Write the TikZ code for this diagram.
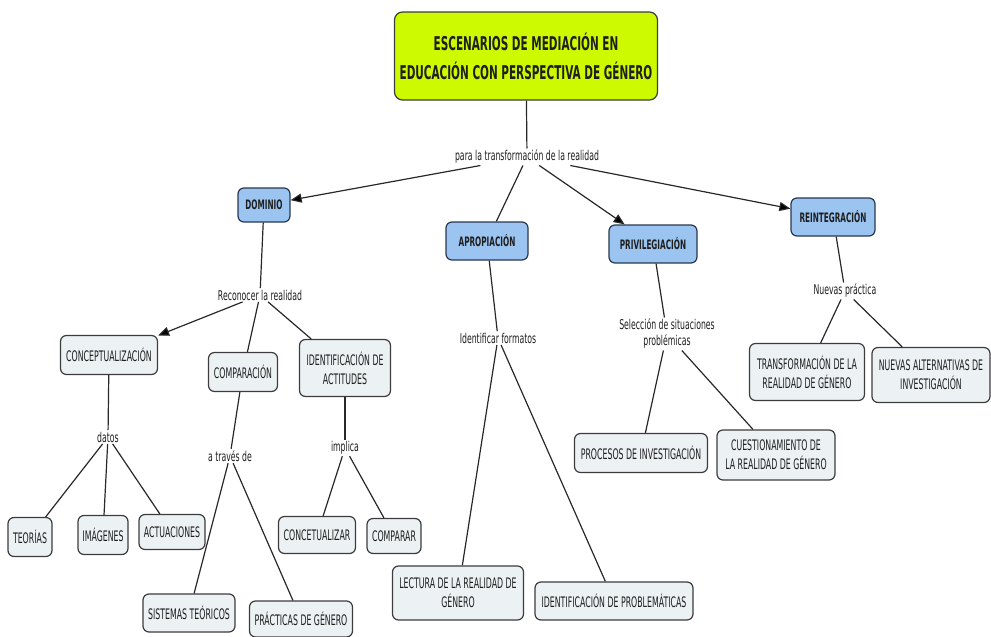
\documentclass[tikz,border=0pt]{standalone}
\usepackage{fontspec}
\setmainfont{DejaVu Sans}[FakeStretch=0.575]
\newfontfamily\nodefont{DejaVu Sans}[FakeStretch=0.54]
\newfontfamily\bluefont{DejaVu Sans}[FakeStretch=0.56]
\newfontfamily\titlefont{DejaVu Sans}[FakeStretch=0.55]
\usetikzlibrary{arrows.meta}
\definecolor{titlefill}{RGB}{206,250,0}
\definecolor{bluefill}{RGB}{155,196,240}
\definecolor{blueborder}{RGB}{40,55,80}
\definecolor{nodefill}{RGB}{236,242,244}
\definecolor{bordergray}{RGB}{60,60,60}
\definecolor{linegray}{RGB}{40,40,40}
\definecolor{textgray}{RGB}{30,30,30}
\tikzset{
 concept/.style={draw=bordergray, fill=nodefill, rounded corners=6pt, line width=1.2pt, font=\nodefont\fontsize{14.5}{19}\selectfont, align=center, inner sep=2pt, text=textgray},
 mainc/.style={concept, draw=blueborder, fill=bluefill, font=\bluefont\bfseries\fontsize{13}{15}\selectfont},
 titlec/.style={concept, draw=bordergray, fill=titlefill, rounded corners=8pt, font=\titlefont\bfseries\fontsize{19}{29}\selectfont},
 link/.style={font=\fontsize{13.5}{16}\selectfont, align=center, inner sep=1.5pt, text=textgray},
 conn/.style={draw=linegray, line width=1.2pt},
 arr/.style={conn, -{Triangle[length=11pt,width=9pt,fill=black]}},
}
\begin{document}
\begin{tikzpicture}[x=1pt,y=-1pt]
\useasboundingbox (0,0) rectangle (991,637);
% title
\node[titlec, minimum width=263pt, minimum height=88pt] (title) at (526,56) {ESCENARIOS DE MEDIACIÓN EN\\EDUCACIÓN CON PERSPECTIVA DE GÉNERO};
\node[link] (para) at (527,157) {para la transformación de la realidad};
% main concepts
\node[mainc, minimum width=52pt, minimum height=34pt] (dom) at (264,205) {DOMINIO};
\node[mainc, minimum width=82pt, minimum height=38pt] (apr) at (487,241) {APROPIACIÓN};
\node[mainc, minimum width=88pt, minimum height=38pt] (pri) at (653,244) {PRIVILEGIACIÓN};
\node[mainc, minimum width=84pt, minimum height=38pt] (rei) at (833,217) {REINTEGRACIÓN};
% dominio branch
\node[link] (recon) at (260,295) {Reconocer la realidad};
\node[concept, minimum width=97pt, minimum height=39pt] (concep) at (109,355) {CONCEPTUALIZACIÓN};
\node[concept, minimum width=69pt, minimum height=39pt] (compar) at (243,372) {COMPARACIÓN};
\node[concept, minimum width=91pt, minimum height=57pt] (ident) at (345,368) {IDENTIFICACIÓN DE\\ACTITUDES};
\node[link] (datos) at (108,437) {datos};
\node[concept, minimum width=44pt, minimum height=39pt] (teo) at (30,537) {TEORÍAS};
\node[concept, minimum width=50pt, minimum height=39pt] (ima) at (103,535) {IMÁGENES};
\node[concept, minimum width=66pt, minimum height=35pt] (act) at (172,532) {ACTUACIONES};
\node[link] (atraves) at (230,456) {a través de};
\node[concept, minimum width=92pt, minimum height=38pt] (sis) at (189,613) {SISTEMAS TEÓRICOS};
\node[concept, minimum width=103pt, minimum height=36pt] (prac) at (301,619) {PRÁCTICAS DE GÉNERO};
\node[link] (implica) at (345,448) {implica};
\node[concept, minimum width=77pt, minimum height=37pt] (concet) at (317,535) {CONCETUALIZAR};
\node[concept, minimum width=54pt, minimum height=35pt] (compr) at (394,536) {COMPARAR};
% apropiacion branch
\node[link] (identf) at (498,338) {Identificar formatos};
\node[concept, minimum width=131pt, minimum height=54pt] (lect) at (458,593) {LECTURA DE LA REALIDAD DE\\GÉNERO};
\node[concept, minimum width=158pt, minimum height=38pt] (idprob) at (614,601) {IDENTIFICACIÓN DE PROBLEMÁTICAS};
% privilegiacion branch
\node[link] (selec) at (667,334) {Selección de situaciones\\problémicas};
\node[concept, minimum width=133pt, minimum height=39pt] (proc) at (641,453) {PROCESOS DE INVESTIGACIÓN};
\node[concept, minimum width=118pt, minimum height=50pt] (cuest) at (776,455) {CUESTIONAMIENTO DE\\LA REALIDAD DE GÉNERO};
% reintegracion branch
\node[link] (nuevas) at (845,291) {Nuevas práctica};
\node[concept, minimum width=115pt, minimum height=57pt] (transf) at (807,372) {TRANSFORMACIÓN DE LA\\REALIDAD DE GÉNERO};
\node[concept, minimum width=118pt, minimum height=55pt] (nalt) at (931,375) {NUEVAS ALTERNATIVAS DE\\INVESTIGACIÓN};
% connectors
\draw[conn] (title) -- (para);
\draw[arr] (para) -- (dom);
\draw[conn] (para) -- (apr);
\draw[arr] (para) -- (pri);
\draw[arr] (para) -- (rei);
\draw[conn] (dom) -- (recon);
\draw[arr] (recon) -- (concep);
\draw[conn] (recon) -- (compar);
\draw[conn] (recon) -- (ident);
\draw[conn] (concep) -- (datos);
\draw[conn] (datos) -- (teo);
\draw[conn] (datos) -- (ima);
\draw[conn] (datos) -- (act);
\draw[conn] (compar) -- (atraves);
\draw[conn] (atraves) -- (sis);
\draw[conn] (atraves) -- (prac);
\draw[conn] (ident) -- (implica);
\draw[conn] (implica) -- (concet);
\draw[conn] (implica) -- (compr);
\draw[conn] (apr) -- (identf);
\draw[conn] (identf) -- (lect);
\draw[conn] (identf) -- (idprob);
\draw[conn] (pri) -- (selec);
\draw[conn] (selec) -- (proc);
\draw[conn] (selec) -- (cuest);
\draw[conn] (rei) -- (nuevas);
\draw[conn] (nuevas) -- (transf);
\draw[conn] (nuevas) -- (nalt);
\end{tikzpicture}
\end{document}
